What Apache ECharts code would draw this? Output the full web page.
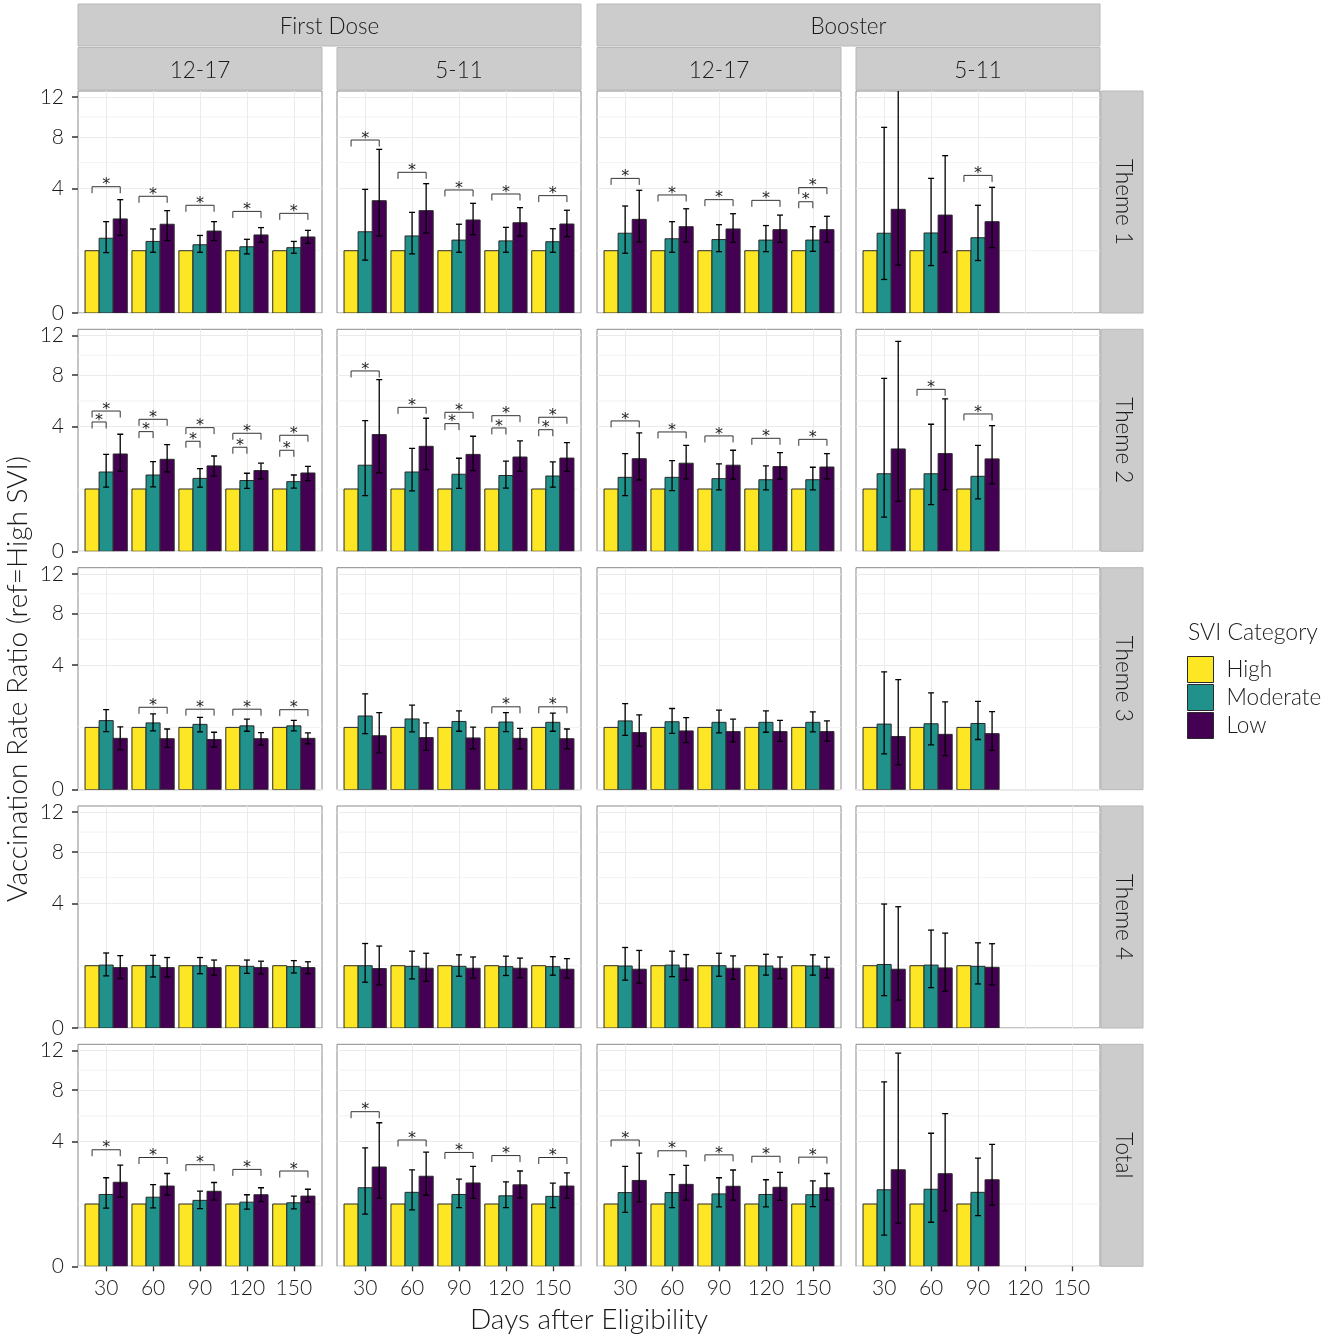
<!DOCTYPE html>
<html>
<head>
<meta charset="utf-8">
<title>Vaccination Rate Ratio by SVI Category</title>
<script src="https://cdn.jsdelivr.net/npm/echarts@6/dist/echarts.min.js"></script>
<style>
  html, body { margin: 0; padding: 0; background: #fff; }
  #chart { width: 1325px; height: 1338px; }
</style>
</head>
<body>
<div id="chart"></div>
<script>
// ---- data (ratios, ref = High SVI) ----
var days = ['30', '60', '90', '120', '150'];
var doses = ['First Dose', 'Booster'];
var ages = ['12-17', '5-11', '12-17', '5-11'];
var themes = ['Theme 1', 'Theme 2', 'Theme 3', 'Theme 4', 'Total'];
var sviCats = ['High', 'Moderate', 'Low'];
var yTicks = [0, 4, 8, 12];
var refHigh = 1;

// one row per day: [moderate, modLo, modHi, low, lowLo, lowHi, bracket High-Low, bracket High-Moderate]
var t1_fd1217 = [
  [1.44, 0.94, 2.15, 2.28, 1.55, 3.31, 4.11],
  [1.32, 0.95, 1.82, 2.03, 1.35, 2.70, 3.51],
  [1.20, 0.95, 1.55, 1.73, 1.35, 2.15, 2.99],
  [1.13, 0.90, 1.40, 1.57, 1.29, 1.88, 2.66],
  [1.10, 0.92, 1.32, 1.49, 1.25, 1.76, 2.56]
];
var t1_fd511 = [
  [1.70, 0.72, 3.94, 3.25, 1.53, 6.90, 7.71],
  [1.53, 0.90, 2.61, 2.70, 1.65, 4.31, 5.10],
  [1.37, 0.95, 2.03, 2.23, 1.58, 3.10, 3.90],
  [1.34, 0.95, 1.89, 2.10, 1.53, 2.86, 3.65],
  [1.31, 0.95, 1.83, 2.04, 1.50, 2.72, 3.55]
];
var t1_b1217 = [
  [1.64, 0.92, 2.95, 2.26, 1.30, 3.88, 4.67],
  [1.42, 0.95, 2.15, 1.92, 1.30, 2.80, 3.59],
  [1.39, 0.97, 2.01, 1.82, 1.29, 2.54, 3.31],
  [1.37, 0.97, 1.97, 1.79, 1.29, 2.47, 3.27],
  [1.37, 0.98, 1.92, 1.79, 1.30, 2.41, 4.05, 3.19]
];
var t1_b511 = [
  [1.64, 0.29, 8.88, 2.77, 0.59, 14.0],
  [1.65, 0.58, 4.67, 2.47, 0.95, 6.38],
  [1.46, 0.71, 2.99, 2.15, 1.10, 4.07, 4.88],
  null,
  null
];

var t2_fd1217 = [
  [1.62, 1.06, 2.42, 2.44, 1.65, 3.53, 5.07, 4.31],
  [1.50, 1.07, 2.07, 2.18, 1.62, 2.93, 4.49, 3.69],
  [1.37, 1.06, 1.76, 1.88, 1.46, 2.34, 3.94, 3.12],
  [1.29, 1.02, 1.57, 1.68, 1.35, 2.00, 3.59, 2.79],
  [1.25, 1.03, 1.50, 1.58, 1.29, 1.86, 3.47, 2.63]
];
var t2_fd511 = [
  [1.91, 0.80, 4.40, 3.51, 1.59, 7.59, 8.38],
  [1.62, 0.94, 2.73, 2.84, 1.72, 4.56, 5.34],
  [1.53, 1.02, 2.23, 2.42, 1.68, 3.41, 4.98, 4.20],
  [1.48, 1.03, 2.10, 2.29, 1.65, 3.14, 4.74, 3.92],
  [1.46, 1.06, 2.06, 2.24, 1.65, 3.04, 4.63, 3.81]
];
var t2_b1217 = [
  [1.41, 0.80, 2.46, 2.21, 1.31, 3.61, 4.38],
  [1.41, 0.95, 2.12, 2.00, 1.35, 2.89, 3.67],
  [1.36, 0.97, 1.97, 1.91, 1.34, 2.63, 3.43],
  [1.32, 0.97, 1.88, 1.85, 1.34, 2.51, 3.29],
  [1.32, 0.97, 1.82, 1.83, 1.35, 2.46, 3.23]
];
var t2_b511 = [
  [1.55, 0.30, 7.71, 2.70, 0.64, 11.36],
  [1.55, 0.56, 4.16, 2.46, 0.98, 5.98, 6.76],
  [1.45, 0.71, 2.89, 2.20, 1.17, 4.07, 4.86],
  null,
  null
];

var t3_fd1217 = [
  [1.23, 0.87, 1.65, 0.68, 0.41, 1.02],
  [1.15, 0.89, 1.48, 0.67, 0.46, 0.95, 1.75],
  [1.10, 0.86, 1.35, 0.65, 0.47, 0.85, 1.67],
  [1.05, 0.88, 1.28, 0.67, 0.51, 0.84, 1.67],
  [1.05, 0.89, 1.24, 0.68, 0.54, 0.83, 1.65]
];
var t3_fd511 = [
  [1.40, 0.81, 2.37, 0.75, 0.35, 1.53],
  [1.29, 0.86, 1.84, 0.70, 0.40, 1.15],
  [1.20, 0.88, 1.60, 0.69, 0.43, 1.01],
  [1.18, 0.87, 1.53, 0.68, 0.43, 0.97, 1.77],
  [1.17, 0.88, 1.51, 0.67, 0.43, 0.95, 1.77]
];
var t3_b1217 = [
  [1.22, 0.76, 1.91, 0.84, 0.49, 1.44],
  [1.19, 0.82, 1.70, 0.89, 0.57, 1.34],
  [1.17, 0.83, 1.63, 0.87, 0.59, 1.28],
  [1.17, 0.85, 1.60, 0.87, 0.60, 1.24],
  [1.17, 0.86, 1.56, 0.87, 0.61, 1.22]
];
var t3_b511 = [
  [1.11, 0.33, 3.58, 0.73, 0.16, 3.12],
  [1.12, 0.52, 2.42, 0.79, 0.30, 1.99],
  [1.13, 0.65, 2.01, 0.81, 0.40, 1.57],
  null,
  null
];

var t4_fd1217 = [
  [1.02, 0.70, 1.45, 0.94, 0.63, 1.35],
  [1.01, 0.67, 1.36, 0.94, 0.67, 1.28],
  [1.00, 0.76, 1.28, 0.94, 0.72, 1.19],
  [0.98, 0.77, 1.19, 0.94, 0.75, 1.15],
  [0.97, 0.78, 1.17, 0.94, 0.76, 1.13]
];
var t4_fd511 = [
  [1.00, 0.54, 1.84, 0.91, 0.48, 1.73],
  [0.98, 0.62, 1.52, 0.92, 0.56, 1.44],
  [0.98, 0.69, 1.38, 0.92, 0.64, 1.30],
  [0.97, 0.71, 1.33, 0.92, 0.65, 1.26],
  [0.97, 0.72, 1.31, 0.89, 0.64, 1.24]
];
var t4_b1217 = [
  [0.99, 0.59, 1.67, 0.89, 0.52, 1.55],
  [1.02, 0.68, 1.52, 0.93, 0.59, 1.39],
  [1.00, 0.69, 1.44, 0.92, 0.61, 1.34],
  [0.99, 0.72, 1.40, 0.92, 0.63, 1.30],
  [0.99, 0.72, 1.38, 0.92, 0.65, 1.29]
];
var t4_b511 = [
  [1.04, 0.27, 3.96, 0.89, 0.20, 3.79],
  [1.02, 0.42, 2.47, 0.93, 0.35, 2.32],
  [0.98, 0.50, 1.87, 0.95, 0.48, 1.83],
  null,
  null
];

var tot_fd1217 = [
  [1.33, 0.87, 2.02, 1.82, 1.23, 2.64, 3.50],
  [1.23, 0.88, 1.72, 1.66, 1.31, 2.22, 3.05],
  [1.12, 0.86, 1.46, 1.45, 1.13, 1.81, 2.66],
  [1.06, 0.84, 1.32, 1.32, 1.08, 1.59, 2.42],
  [1.04, 0.85, 1.27, 1.27, 1.06, 1.53, 2.34]
];
var tot_fd511 = [
  [1.59, 0.70, 3.62, 2.54, 1.20, 5.31, 6.16],
  [1.41, 0.82, 2.40, 2.09, 1.30, 3.36, 4.11],
  [1.33, 0.89, 1.96, 1.79, 1.19, 2.57, 3.34],
  [1.28, 0.89, 1.84, 1.71, 1.21, 2.34, 3.16],
  [1.26, 0.89, 1.78, 1.66, 1.20, 2.25, 3.05]
];
var tot_b1217 = [
  [1.40, 0.75, 2.57, 1.90, 1.07, 3.30, 4.11],
  [1.40, 0.89, 2.17, 1.73, 1.13, 2.63, 3.44],
  [1.35, 0.91, 2.02, 1.65, 1.13, 2.39, 3.20],
  [1.33, 0.91, 1.93, 1.61, 1.12, 2.27, 3.12],
  [1.32, 0.92, 1.88, 1.59, 1.13, 2.22, 3.07]
];
var tot_b511 = [
  [1.51, 0.25, 8.76, 2.40, 0.48, 11.70],
  [1.53, 0.50, 4.56, 2.21, 0.79, 6.00],
  [1.41, 0.66, 3.01, 1.93, 0.96, 3.83],
  null,
  null
];

var panels = [
  [t1_fd1217, t1_fd511, t1_b1217, t1_b511],
  [t2_fd1217, t2_fd511, t2_b1217, t2_b511],
  [t3_fd1217, t3_fd511, t3_b1217, t3_b511],
  [t4_fd1217, t4_fd511, t4_b1217, t4_b511],
  [tot_fd1217, tot_fd511, tot_b1217, tot_b511]
];

// ---- layout ----
var colLeft = [78, 337, 597, 856];
var rowTop = [91, 329.3, 567.7, 806, 1044.3];
var panelW = 244, panelH = 222;
var yMaxRatio = 12.7;          // sqrt scale upper limit
var colors = ['#FDE725', '#21918C', '#440154'];
var font = 'Lato';
var weight = 300;

var sq = Math.sqrt;
var minorY = [1, (sq(4) + sq(8)) / 2, (sq(8) + sq(12)) / 2];

function renderBar(k) {
  return function (params, api) {
    var xc = api.value(0) + (k - 1) * 0.3;
    var top = api.coord([xc - 0.15, sq(api.value(1))]);
    var base = api.coord([xc + 0.15, 0]);
    var kids = [{
      type: 'rect',
      shape: { x: top[0], y: top[1], width: base[0] - top[0], height: base[1] - top[1] },
      style: { fill: colors[k], stroke: '#2a2a2a', lineWidth: 1 }
    }];
    if (k > 0) {
      var hi = api.coord([xc, sq(api.value(3))]);
      var lo = api.coord([xc, sq(api.value(2))]);
      var cap = 3, st = { stroke: '#000', lineWidth: 1.3 };
      kids.push({ type: 'line', shape: { x1: hi[0], y1: hi[1], x2: lo[0], y2: lo[1] }, style: st });
      kids.push({ type: 'line', shape: { x1: hi[0] - cap, y1: hi[1], x2: hi[0] + cap, y2: hi[1] }, style: st });
      kids.push({ type: 'line', shape: { x1: lo[0] - cap, y1: lo[1], x2: lo[0] + cap, y2: lo[1] }, style: st });
    }
    return { type: 'group', children: kids };
  };
}

function renderBracket(params, api) {
  var xi = api.value(0), yv = sq(api.value(1)), kind = api.value(2);
  var a = api.coord([xi - 0.3, yv]);
  var b = api.coord([kind === 0 ? xi + 0.3 : xi, yv]);
  var tip = 6.5;
  return {
    type: 'group',
    children: [
      { type: 'polyline',
        shape: { points: [[a[0], a[1] + tip], [a[0], a[1]], [b[0], b[1]], [b[0], b[1] + tip]] },
        style: { stroke: '#333', lineWidth: 1, fill: null } },
      { type: 'text',
        style: { text: '*', x: (a[0] + b[0]) / 2, y: a[1] - 1.5, fill: '#222',
          fontSize: 16, fontFamily: 'DejaVu Sans', align: 'center', verticalAlign: 'middle',
          textAlign: 'center', textVerticalAlign: 'middle' } }
    ]
  };
}

function renderMinor(params, api) {
  var p0 = api.coord([-0.6, api.value(0)]);
  var p1 = api.coord([4.6, api.value(0)]);
  return { type: 'line', shape: { x1: p0[0], y1: p0[1], x2: p1[0], y2: p1[1] },
    style: { stroke: '#efefef', lineWidth: 0.8 } };
}

var grids = [], xAxes = [], yAxes = [], series = [];
panels.forEach(function (row, r) {
  row.forEach(function (rows, c) {
    var g = grids.length;
    var bottomRow = r === panels.length - 1, leftCol = c === 0;
    grids.push({ left: colLeft[c], top: rowTop[r], width: panelW, height: panelH,
      show: true, borderColor: '#8a8a8a', borderWidth: 1, backgroundColor: '#fff' });
    var xIdx = days.map(function (d, i) { return i; });
    xAxes.push({
      type: 'value', gridIndex: g, min: -0.6, max: 4.6, position: 'bottom',
      axisLine: { show: false, onZero: false },
      axisTick: { show: bottomRow, customValues: xIdx, length: 5, lineStyle: { color: '#333', width: 1.3 } },
      axisLabel: { show: bottomRow, customValues: xIdx, margin: 11, fontSize: 21, fontFamily: font,
        fontWeight: weight, color: '#1a1a1a',
        formatter: function (v) { return days[Math.round(v)]; } },
      splitLine: { show: true, lineStyle: { color: '#ebebeb', width: 1 } }
    });
    var yVals = yTicks.map(sq);
    yAxes.push({
      type: 'value', gridIndex: g, min: 0, max: sq(yMaxRatio), position: 'left',
      axisLine: { show: false, onZero: false },
      axisTick: { show: leftCol, customValues: yVals, length: 6, lineStyle: { color: '#333', width: 1.5 } },
      axisLabel: { show: leftCol, customValues: yVals, margin: 14, fontSize: 21, fontFamily: font,
        fontWeight: weight, color: '#1a1a1a',
        formatter: function (v) { return String(Math.round(v * v)); } },
      splitLine: { show: true, lineStyle: { color: '#ebebeb', width: 1 } }
    });

    series.push({ type: 'custom', name: 'minor', xAxisIndex: g, yAxisIndex: g, silent: true,
      renderItem: renderMinor, data: minorY.map(function (v) { return [v]; }), encode: { y: 0 } });

    var high = [], mod = [], low = [], br = [];
    rows.forEach(function (d, i) {
      if (!d) return;
      high.push([i, refHigh]);
      mod.push([i, d[0], d[1], d[2]]);
      low.push([i, d[3], d[4], d[5]]);
      if (d[6] != null) br.push([i, d[6], 0]);
      if (d[7] != null) br.push([i, d[7], 1]);
    });
    [high, mod, low].forEach(function (dat, k) {
      series.push({ type: 'custom', name: sviCats[k], xAxisIndex: g, yAxisIndex: g, clip: true, silent: true,
        itemStyle: { color: colors[k], borderColor: '#2a2a2a', borderWidth: 1 },
        renderItem: renderBar(k), data: dat });
    });
    series.push({ type: 'custom', name: 'sig', xAxisIndex: g, yAxisIndex: g, silent: true,
      renderItem: renderBracket, data: br });
  });
});

// ---- facet strips and titles ----
var graphics = [];
function textStyle(label, size, align) {
  return { text: label, fill: '#1a1a1a', fontSize: size, fontFamily: font, fontWeight: weight,
    align: align, verticalAlign: 'middle', textAlign: align, textVerticalAlign: 'middle' };
}
function strip(x, y, w, h, label, rot) {
  graphics.push({ type: 'rect', silent: true, shape: { x: x, y: y, width: w, height: h },
    style: { fill: '#cccccc', stroke: '#b8b8b8', lineWidth: 1 } });
  var tx = x + w / 2, ty = y + h / 2;
  if (rot) tx += 1.5; else ty += 1.5;
  graphics.push({ type: 'text', silent: true, x: tx, y: ty, rotation: rot || 0,
    style: textStyle(label, 22.5, 'center') });
}
doses.forEach(function (d, i) {
  var x0 = colLeft[i * 2], x1 = colLeft[i * 2 + 1] + panelW;
  strip(x0, 4, x1 - x0, 42, d);
});
ages.forEach(function (a, c) { strip(colLeft[c], 47.5, panelW, 42.5, a); });
themes.forEach(function (t, r) { strip(1101, rowTop[r], 42, panelH, t, -Math.PI / 2); });

graphics.push({ type: 'text', silent: true, x: 18, y: 679, rotation: Math.PI / 2,
  style: textStyle('Vaccination Rate Ratio (ref=High SVI)', 28, 'center') });
graphics.push({ type: 'text', silent: true, x: 589, y: 1320,
  style: textStyle('Days after Eligibility', 28, 'center') });
graphics.push({ type: 'text', silent: true, x: 1188, y: 633,
  style: textStyle('SVI Category', 23, 'left') });

var chart = echarts.init(document.getElementById('chart'), null, { renderer: 'canvas' });
chart.setOption({
  backgroundColor: '#fff',
  animation: false,
  textStyle: { fontFamily: font },
  grid: grids,
  xAxis: xAxes,
  yAxis: yAxes,
  series: series,
  legend: {
    data: sviCats, orient: 'vertical', left: 1187, top: 656, padding: 0,
    itemWidth: 26, itemHeight: 26, itemGap: 1, icon: 'rect', selectedMode: false,
    itemStyle: { borderColor: '#2a2a2a', borderWidth: 1 },
    textStyle: { fontSize: 22.5, fontFamily: font, fontWeight: weight, color: '#1a1a1a',
      lineHeight: 26, padding: [0, 0, 0, 8] }
  },
  graphic: graphics
});
</script>
</body>
</html>
